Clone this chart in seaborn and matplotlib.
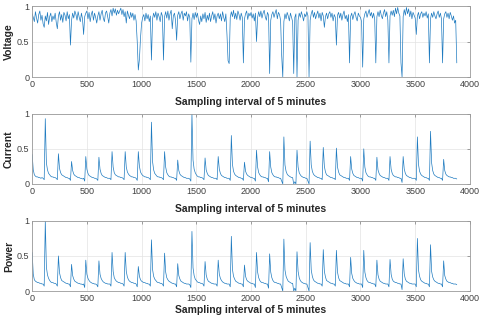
import numpy as np
import pandas as pd
import seaborn as sns
import matplotlib.pyplot as plt

# one reading every 10 samples (5-minute sampling interval), 0 .. 3880
step = 10

voltage = [
    0.89, 0.84, 0.78, 0.92, 0.83, 0.76, 0.88, 0.93, 0.80, 0.87,
    0.75, 0.70, 0.86, 0.79, 0.91, 0.74, 0.85, 0.90, 0.78, 0.86,
    0.81, 0.90, 0.77, 0.68, 0.86, 0.92, 0.80, 0.88, 0.77, 0.91,
    0.87, 0.79, 0.92, 0.82, 0.88, 0.45, 0.80, 0.90, 0.83, 0.93,
    0.88, 0.80, 0.92, 0.84, 0.78, 0.90, 0.82, 0.60, 0.85, 0.90,
    0.93, 0.82, 0.91, 0.78, 0.88, 0.93, 0.80, 0.90, 0.84, 0.76,
    0.86, 0.92, 0.80, 0.89, 0.94, 0.83, 0.78, 0.90, 0.93, 0.85,
    0.76, 0.90, 0.95, 0.86, 0.97, 0.90, 0.96, 0.87, 0.94, 0.89,
    0.93, 0.97, 0.88, 0.95, 0.85, 0.92, 0.76, 0.93, 0.87, 0.82,
    0.91, 0.84, 0.90, 0.80, 0.88, 0.79, 0.50, 0.10, 0.25, 0.55,
    0.76, 0.84, 0.88, 0.79, 0.90, 0.82, 0.88, 0.78, 0.86, 0.24,
    0.82, 0.90, 0.84, 0.92, 0.80, 0.90, 0.85, 0.78, 0.91, 0.86,
    0.24, 0.85, 0.92, 0.83, 0.93, 0.80, 0.89, 0.94, 0.68, 0.86,
    0.90, 0.80, 0.52, 0.87, 0.92, 0.82, 0.89, 0.93, 0.80, 0.90,
    0.86, 0.92, 0.79, 0.89, 0.84, 0.21, 0.82, 0.90, 0.81, 0.91,
    0.84, 0.90, 0.80, 0.74, 0.86, 0.78, 0.89, 0.82, 0.91, 0.77,
    0.87, 0.80, 0.90, 0.78, 0.86, 0.92, 0.81, 0.89, 0.76, 0.86,
    0.90, 0.82, 0.89, 0.79, 0.92, 0.84, 0.78, 0.89, 0.60, 0.23,
    0.19, 0.84, 0.92, 0.85, 0.94, 0.82, 0.90, 0.81, 0.93, 0.88,
    0.80, 0.90, 0.84, 0.20, 0.82, 0.89, 0.93, 0.81, 0.90, 0.86,
    0.91, 0.83, 0.89, 0.79, 0.90, 0.50, 0.84, 0.92, 0.85, 0.93,
    0.83, 0.90, 0.94, 0.85, 0.80, 0.91, 0.87, 0.05, 0.80, 0.88,
    0.92, 0.84, 0.90, 0.95, 0.82, 0.91, 0.88, 0.80, 0.30, 0.00,
    0.78, 0.89, 0.82, 0.91, 0.86, 0.79, 0.90, 0.84, 0.78, 0.05,
    0.84, 0.89, 0.00, 0.80, 0.90, 0.84, 0.92, 0.86, 0.79, 0.89,
    0.85, 0.92, 0.86, 0.00, 0.80, 0.89, 0.94, 0.84, 0.91, 0.82,
    0.88, 0.93, 0.83, 0.90, 0.79, 0.91, 0.86, 0.70, 0.85, 0.90,
    0.82, 0.89, 0.92, 0.84, 0.90, 0.79, 0.88, 0.84, 0.45, 0.87,
    0.91, 0.83, 0.90, 0.80, 0.88, 0.93, 0.82, 0.87, 0.78, 0.88,
    0.20, 0.85, 0.90, 0.81, 0.88, 0.92, 0.84, 0.79, 0.90, 0.86,
    0.84, 0.78, 0.14, 0.82, 0.89, 0.93, 0.84, 0.90, 0.95, 0.86,
    0.91, 0.83, 0.90, 0.81, 0.20, 0.85, 0.92, 0.85, 0.94, 0.87,
    0.82, 0.90, 0.95, 0.85, 0.92, 0.80, 0.20, 0.86, 0.93, 0.87,
    0.94, 0.85, 0.97, 0.89, 0.98, 0.90, 0.86, 0.20, 0.00, 0.85,
    0.95, 0.87, 0.98, 0.89, 0.96, 0.85, 0.93, 0.82, 0.91, 0.87,
    0.83, 0.60, 0.86, 0.91, 0.82, 0.89, 0.92, 0.84, 0.90, 0.86,
    0.92, 0.83, 0.89, 0.20, 0.82, 0.90, 0.84, 0.92, 0.86, 0.82,
    0.89, 0.93, 0.84, 0.90, 0.82, 0.20, 0.82, 0.89, 0.92, 0.84,
    0.90, 0.82, 0.91, 0.86, 0.80, 0.86, 0.76, 0.80, 0.20,
]

current = [
    0.42, 0.20, 0.13, 0.11, 0.10, 0.10, 0.09, 0.09, 0.08, 0.09,
    0.08, 0.06, 0.93, 0.30, 0.20, 0.15, 0.13, 0.11, 0.10, 0.10,
    0.09, 0.09, 0.08, 0.06, 0.43, 0.22, 0.16, 0.13, 0.12, 0.11,
    0.10, 0.09, 0.09, 0.08, 0.08, 0.05, 0.32, 0.19, 0.14, 0.12,
    0.11, 0.10, 0.09, 0.09, 0.08, 0.08, 0.07, 0.08, 0.04, 0.39,
    0.21, 0.15, 0.12, 0.11, 0.10, 0.09, 0.09, 0.08, 0.08, 0.07,
    0.05, 0.38, 0.21, 0.15, 0.12, 0.11, 0.10, 0.09, 0.09, 0.08,
    0.08, 0.08, 0.06, 0.46, 0.24, 0.16, 0.13, 0.12, 0.11, 0.10,
    0.10, 0.09, 0.09, 0.08, 0.06, 0.46, 0.24, 0.17, 0.14, 0.12,
    0.11, 0.10, 0.10, 0.09, 0.09, 0.08, 0.05, 0.46, 0.25, 0.17,
    0.14, 0.12, 0.11, 0.10, 0.10, 0.09, 0.09, 0.08, 0.06, 0.88,
    0.32, 0.20, 0.15, 0.13, 0.11, 0.10, 0.10, 0.09, 0.09, 0.08,
    0.06, 0.46, 0.24, 0.16, 0.13, 0.11, 0.10, 0.10, 0.09, 0.09,
    0.08, 0.08, 0.05, 0.34, 0.19, 0.14, 0.12, 0.11, 0.10, 0.09,
    0.09, 0.08, 0.08, 0.08, 0.07, 0.04, 1.00, 0.34, 0.21, 0.16,
    0.13, 0.11, 0.10, 0.10, 0.09, 0.09, 0.08, 0.06, 0.37, 0.20,
    0.15, 0.12, 0.11, 0.10, 0.09, 0.09, 0.08, 0.08, 0.08, 0.06,
    0.39, 0.21, 0.15, 0.12, 0.11, 0.10, 0.09, 0.09, 0.08, 0.08,
    0.08, 0.05, 0.69, 0.28, 0.18, 0.14, 0.12, 0.11, 0.10, 0.09,
    0.09, 0.08, 0.08, 0.05, 0.31, 0.18, 0.14, 0.12, 0.11, 0.10,
    0.09, 0.09, 0.08, 0.08, 0.04, 0.48, 0.24, 0.16, 0.13, 0.11,
    0.10, 0.10, 0.09, 0.09, 0.08, 0.08, 0.03, 0.46, 0.24, 0.16,
    0.13, 0.11, 0.10, 0.10, 0.09, 0.09, 0.08, 0.08, 0.04, 0.00,
    0.67, 0.27, 0.18, 0.14, 0.12, 0.11, 0.10, 0.09, 0.09, 0.00,
    0.03, 0.00, 0.48, 0.24, 0.16, 0.13, 0.11, 0.10, 0.09, 0.09,
    0.08, 0.08, 0.04, 0.00, 0.61, 0.27, 0.18, 0.14, 0.12, 0.11,
    0.10, 0.09, 0.09, 0.08, 0.08, 0.06, 0.52, 0.25, 0.17, 0.13,
    0.12, 0.11, 0.10, 0.09, 0.09, 0.08, 0.08, 0.06, 0.51, 0.24,
    0.17, 0.13, 0.12, 0.11, 0.10, 0.09, 0.09, 0.08, 0.08, 0.08,
    0.05, 0.39, 0.21, 0.15, 0.12, 0.11, 0.10, 0.09, 0.09, 0.08,
    0.08, 0.08, 0.04, 0.50, 0.24, 0.16, 0.13, 0.11, 0.10, 0.10,
    0.09, 0.09, 0.08, 0.08, 0.05, 0.38, 0.20, 0.15, 0.12, 0.11,
    0.10, 0.09, 0.09, 0.08, 0.08, 0.08, 0.05, 0.39, 0.21, 0.15,
    0.12, 0.11, 0.10, 0.10, 0.09, 0.09, 0.08, 0.08, 0.02, 0.39,
    0.21, 0.15, 0.12, 0.11, 0.10, 0.09, 0.09, 0.08, 0.08, 0.08,
    0.08, 0.05, 0.67, 0.28, 0.18, 0.14, 0.12, 0.11, 0.10, 0.09,
    0.09, 0.08, 0.08, 0.05, 0.75, 0.30, 0.19, 0.14, 0.12, 0.11,
    0.10, 0.09, 0.09, 0.08, 0.08, 0.05, 0.35, 0.19, 0.14, 0.12,
    0.11, 0.10, 0.10, 0.09, 0.09, 0.08, 0.08, 0.08, 0.07,
]

power = [
    0.55, 0.24, 0.16, 0.14, 0.13, 0.12, 0.12, 0.11, 0.11, 0.10,
    0.10, 0.07, 1.00, 0.34, 0.23, 0.18, 0.15, 0.13, 0.12, 0.12,
    0.11, 0.11, 0.10, 0.07, 0.50, 0.26, 0.19, 0.15, 0.14, 0.13,
    0.12, 0.11, 0.11, 0.10, 0.10, 0.06, 0.38, 0.22, 0.17, 0.14,
    0.13, 0.12, 0.11, 0.11, 0.10, 0.10, 0.09, 0.10, 0.05, 0.44,
    0.24, 0.18, 0.15, 0.13, 0.12, 0.11, 0.11, 0.10, 0.10, 0.09,
    0.06, 0.43, 0.24, 0.18, 0.15, 0.13, 0.12, 0.11, 0.11, 0.10,
    0.10, 0.10, 0.07, 0.55, 0.28, 0.19, 0.16, 0.14, 0.13, 0.12,
    0.12, 0.11, 0.11, 0.10, 0.07, 0.55, 0.28, 0.20, 0.16, 0.14,
    0.13, 0.12, 0.12, 0.11, 0.11, 0.10, 0.06, 0.35, 0.21, 0.16,
    0.14, 0.13, 0.12, 0.12, 0.11, 0.11, 0.10, 0.10, 0.07, 0.73,
    0.31, 0.21, 0.17, 0.15, 0.13, 0.12, 0.12, 0.11, 0.11, 0.10,
    0.07, 0.54, 0.27, 0.19, 0.16, 0.14, 0.13, 0.12, 0.11, 0.11,
    0.10, 0.10, 0.06, 0.39, 0.22, 0.17, 0.14, 0.13, 0.12, 0.11,
    0.11, 0.10, 0.10, 0.10, 0.09, 0.05, 0.85, 0.33, 0.22, 0.17,
    0.15, 0.13, 0.12, 0.12, 0.11, 0.11, 0.10, 0.07, 0.42, 0.23,
    0.17, 0.14, 0.13, 0.12, 0.11, 0.11, 0.10, 0.10, 0.10, 0.07,
    0.44, 0.24, 0.18, 0.15, 0.13, 0.12, 0.11, 0.11, 0.10, 0.10,
    0.10, 0.06, 0.78, 0.31, 0.21, 0.17, 0.14, 0.13, 0.12, 0.11,
    0.11, 0.10, 0.10, 0.06, 0.37, 0.21, 0.16, 0.14, 0.13, 0.12,
    0.11, 0.11, 0.10, 0.10, 0.05, 0.55, 0.27, 0.19, 0.15, 0.13,
    0.12, 0.12, 0.11, 0.11, 0.10, 0.10, 0.04, 0.53, 0.27, 0.19,
    0.15, 0.13, 0.12, 0.12, 0.11, 0.11, 0.10, 0.10, 0.05, 0.00,
    0.74, 0.30, 0.21, 0.17, 0.14, 0.13, 0.12, 0.11, 0.11, 0.00,
    0.04, 0.00, 0.56, 0.28, 0.19, 0.15, 0.13, 0.12, 0.11, 0.11,
    0.10, 0.10, 0.05, 0.00, 0.69, 0.30, 0.21, 0.16, 0.14, 0.13,
    0.12, 0.11, 0.11, 0.10, 0.10, 0.07, 0.59, 0.28, 0.20, 0.15,
    0.14, 0.13, 0.12, 0.11, 0.11, 0.10, 0.10, 0.07, 0.58, 0.27,
    0.19, 0.15, 0.14, 0.13, 0.12, 0.11, 0.11, 0.10, 0.10, 0.10,
    0.06, 0.48, 0.25, 0.18, 0.15, 0.13, 0.12, 0.11, 0.11, 0.10,
    0.10, 0.10, 0.05, 0.58, 0.27, 0.19, 0.15, 0.13, 0.12, 0.12,
    0.11, 0.11, 0.10, 0.10, 0.06, 0.44, 0.23, 0.17, 0.14, 0.13,
    0.12, 0.11, 0.11, 0.10, 0.10, 0.10, 0.06, 0.45, 0.24, 0.17,
    0.14, 0.13, 0.12, 0.12, 0.11, 0.11, 0.10, 0.10, 0.02, 0.46,
    0.24, 0.17, 0.14, 0.13, 0.12, 0.11, 0.11, 0.10, 0.10, 0.10,
    0.10, 0.06, 0.75, 0.30, 0.21, 0.16, 0.14, 0.13, 0.12, 0.11,
    0.11, 0.10, 0.10, 0.06, 0.66, 0.28, 0.20, 0.16, 0.14, 0.13,
    0.12, 0.11, 0.11, 0.10, 0.10, 0.06, 0.43, 0.22, 0.17, 0.14,
    0.13, 0.12, 0.12, 0.11, 0.11, 0.10, 0.10, 0.10, 0.09,
]

panels = ["Voltage", "Current", "Power"]
x_ticks = [0, 500, 1000, 1500, 2000, 2500, 3000, 3500, 4000]
y_ticks = [0, 0.5, 1]
x_label = "Sampling interval of 5 minutes"

samples = np.arange(len(voltage)) * step
df = pd.DataFrame({"sample": samples, "Voltage": voltage,
                   "Current": current, "Power": power})

sns.set_theme(style="white")
plt.rcParams["font.family"] = ["Liberation Sans", "DejaVu Sans"]

fig = plt.figure(figsize=(4.8, 3.16), dpi=100)
# axes boxes (left, bottom, width, height) in figure fractions
boxes = [
    [0.067, 0.756, 0.912, 0.225],
    [0.067, 0.418, 0.912, 0.222],
    [0.067, 0.079, 0.912, 0.222],
]
label_pads = [6, 6, 1.5]

line_color = "#1f7bc0"
for name, box, lp in zip(panels, boxes, label_pads):
    ax = fig.add_axes(box)
    sns.lineplot(data=df, x="sample", y=name, ax=ax, color=line_color,
                 linewidth=0.5, estimator=None)
    ax.set_xlim(0, 4000)
    ax.set_ylim(0, 1)
    ax.set_xticks(x_ticks)
    ax.set_yticks(y_ticks)
    ax.set_yticklabels(["0", "0.5", "1"])
    ax.grid(True, color="#e3e3e3", linewidth=0.5)
    ax.set_axisbelow(True)
    for sp in ax.spines.values():
        sp.set_color("#9a9a9a")
        sp.set_linewidth(0.6)
    ax.tick_params(axis="both", which="both", direction="in", length=2,
                   width=0.5, color="#7a7a7a", labelsize=6.5,
                   labelcolor="#404040", top=True, right=True, pad=2)
    ax.set_xlabel(x_label, fontsize=7.5, fontweight="bold", labelpad=lp)
    ax.set_ylabel(name, fontsize=7.5, fontweight="bold", labelpad=2)

plt.savefig("out.png", dpi=100)
plt.close()
